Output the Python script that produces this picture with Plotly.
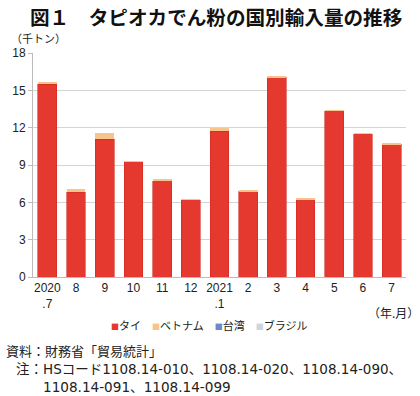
import plotly.graph_objects as go

categories = ["2020<br>.7", "8", "9", "10", "11", "12", "2021<br>.1", "2", "3", "4", "5", "6", "7"]
thai = [15.5, 6.8, 11.05, 9.25, 7.75, 6.2, 11.7, 6.9, 16.05, 6.25, 13.35, 11.5, 10.65]
vietnam = [0.2, 0.3, 0.55, 0.03, 0.15, 0.02, 0.27, 0.02, 0.12, 0.03, 0.03, 0.03, 0.12]
taiwan = [0.0] * 13
brazil = [0.0] * 13
y_ticks = [0, 3, 6, 9, 12, 15, 18]

RED = "#E5392F"
ORANGE = "#F7C48C"
BLUE = "#6F86C9"
DOT = "#C9D6E4"

W, H = 420, 396
L, R, T, B = 29, 14, 53, 119

fig = go.Figure()
fig.add_bar(x=categories, y=thai, name="タイ", marker=dict(color=RED, line=dict(color="#D02A24", width=0.6)))
fig.add_bar(x=categories, y=vietnam, name="ベトナム", marker=dict(color=ORANGE, line=dict(width=0)))
fig.add_bar(x=categories, y=taiwan, name="台湾", marker=dict(color=BLUE, line=dict(width=0)))
fig.add_bar(x=categories, y=brazil, name="ブラジル", marker=dict(color=DOT, line=dict(width=0)))

CJK = "Noto Sans CJK JP"
TXT = "#222222"

fig.update_layout(
    width=W, height=H,
    margin=dict(l=L, r=R, t=T, b=B, pad=0),
    barmode="stack",
    bargap=0.345,
    showlegend=False,
    plot_bgcolor="white",
    paper_bgcolor="white",
    font=dict(family="Liberation Sans, " + CJK, size=12, color=TXT),
)

fig.update_yaxes(
    range=[0, 18], tickvals=y_ticks, ticktext=[str(v) for v in y_ticks],
    showgrid=True, gridcolor="#D4D4D4", gridwidth=1,
    showline=True, linecolor="#BBBBBB", linewidth=1,
    ticks="outside", ticklen=4, tickcolor="#BBBBBB",
    tickfont=dict(family="Liberation Sans", size=12, color=TXT),
    zeroline=False,
)
fig.update_xaxes(
    showline=True, linecolor="#BBBBBB", linewidth=1,
    ticks="", tickfont=dict(family="Liberation Sans", size=12, color=TXT),
    tickangle=0,
)

def px_x(x):
    return (x - L) / (W - L - R)

def px_y(y):
    return (H - B - y) / (H - T - B)

NOTE = "DejaVu Sans, " + CJK

def sq(c):
    return f"<span style='color:{c};font-size:8px'>■</span>"

annos = [
    dict(text="<b>図１　タピオカでん粉の国別輸入量の推移</b>", x=px_x(24), y=px_y(16),
         xanchor="left", yanchor="middle", font=dict(family=CJK, size=19.6, color="#111111")),
    dict(text="（千トン）", x=px_x(5), y=px_y(38), xanchor="left", yanchor="middle",
         font=dict(family=CJK, size=11, color=TXT)),
    dict(text="（年.月）", x=px_x(421), y=px_y(312), xanchor="right", yanchor="middle",
         font=dict(family=CJK, size=12, color=TXT)),
    dict(text=(f"{sq(RED)}タイ　{sq(ORANGE)}ベトナム　{sq(BLUE)}台湾　{sq(DOT)}ブラジル"),
         x=px_x(207), y=px_y(325), xanchor="center", yanchor="middle",
         font=dict(family=CJK, size=11, color=TXT)),
    dict(text="資料：財務省「貿易統計」", x=px_x(0), y=px_y(351), xanchor="left", yanchor="middle",
         font=dict(family=NOTE, size=13, color=TXT)),
    dict(text="注：HSコード1108.14-010、1108.14-020、1108.14-090、", x=px_x(10), y=px_y(369),
         xanchor="left", yanchor="middle", font=dict(family=NOTE, size=13.5, color=TXT)),
    dict(text="1108.14-091、1108.14-099", x=px_x(37), y=px_y(387),
         xanchor="left", yanchor="middle", font=dict(family=NOTE, size=13.6, color=TXT)),
]
for a in annos:
    a.update(xref="paper", yref="paper", showarrow=False)
    fig.add_annotation(**a)

fig.write_html("out.html", post_script="document.body.style.margin='0';",
               config={"displayModeBar": False})
